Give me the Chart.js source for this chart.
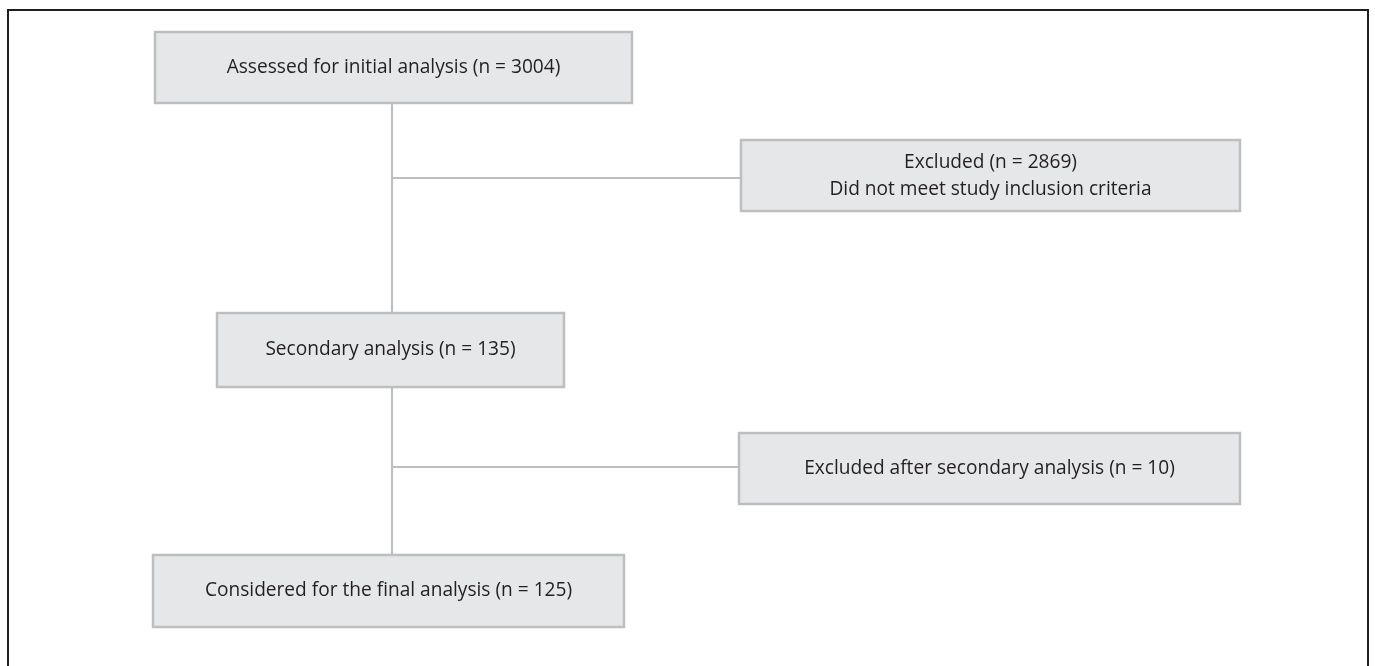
<!DOCTYPE html>
<html>
<head>
<meta charset="utf-8">
<script src="https://cdn.jsdelivr.net/npm/chart.js@4.4.1/dist/chart.umd.min.js"></script>
<style>
  html, body { margin: 0; padding: 0; background: #ffffff; }
  #wrap { width: 1375px; height: 666px; position: relative; }
</style>
</head>
<body>
<div id="wrap"><canvas id="c" width="1375" height="666"></canvas></div>
<script>
// ---- data ----
const stepLabels = [
  "Assessed for initial analysis",
  "Excluded",
  "Secondary analysis",
  "Excluded after secondary analysis",
  "Considered for the final analysis"
];
const stepCounts = [3004, 2869, 135, 10, 125];
const stepNotes = ["", "Did not meet study inclusion criteria", "", "", ""];

// ---- layout (scale units) ----
const boxX0 = [155, 741, 217, 739, 153];
const boxX1 = [632, 1240, 564, 1240, 624];
const boxY0 = [32, 140, 313, 433, 555];
const boxY1 = [103, 211, 387, 504, 627];
const trunkX = 392;
const branchY = [178, 467];

const FONT = '"Open Sans", "Liberation Sans", sans-serif';

const flowPlugin = {
  id: 'flow',
  afterDatasetsDraw(chart) {
    const ctx = chart.ctx;
    const xs = chart.scales.x, ys = chart.scales.y;
    const px = v => xs.getPixelForValue(v);
    const py = v => ys.getPixelForValue(v);
    ctx.save();
    // outer frame
    ctx.strokeStyle = '#231f20';
    ctx.lineWidth = 2;
    ctx.strokeRect(px(8), py(10), px(1368) - px(8), py(680) - py(10));
    // fit font so the first label spans the same width as in the reference
    ctx.font = '100px ' + FONT;
    const refText = stepLabels[0] + ' (n = ' + stepCounts[0] + ')';
    const w100 = ctx.measureText(refText).width;
    const fs = Math.min(20, Math.max(14, 100 * 334 / w100));
    for (let i = 0; i < stepLabels.length; i++) {
      const x0 = px(boxX0[i]), x1 = px(boxX1[i]);
      const y0 = py(boxY0[i]), y1 = py(boxY1[i]);
      ctx.fillStyle = '#e6e7e8';
      ctx.fillRect(x0, y0, x1 - x0, y1 - y0);
      ctx.strokeStyle = '#bcbec0';
      ctx.lineWidth = 2.5;
      ctx.strokeRect(x0, y0, x1 - x0, y1 - y0);
      const main = stepLabels[i] + ' (n = ' + stepCounts[i] + ')';
      ctx.fillStyle = '#231f20';
      ctx.font = fs.toFixed(2) + 'px ' + FONT;
      ctx.textAlign = 'center';
      ctx.textBaseline = 'middle';
      const cx = (x0 + x1) / 2, cy = (y0 + y1) / 2;
      if (stepNotes[i]) {
        ctx.fillText(main, cx, cy - 13);
        ctx.fillText(stepNotes[i], cx, cy + 14);
      } else {
        ctx.fillText(main, cx, cy);
      }
    }
    ctx.restore();
  }
};

// connector lines as datasets
const connectors = [
  [{x: trunkX, y: boxY1[0]}, {x: trunkX, y: boxY0[2]}],
  [{x: trunkX, y: branchY[0]}, {x: boxX0[1], y: branchY[0]}],
  [{x: trunkX, y: boxY1[2]}, {x: trunkX, y: boxY0[4]}],
  [{x: trunkX, y: branchY[1]}, {x: boxX0[3], y: branchY[1]}]
];

new Chart(document.getElementById('c'), {
  type: 'scatter',
  data: {
    datasets: connectors.map(d => ({
      type: 'line',
      data: d,
      borderColor: '#bcbec0',
      borderWidth: 2.2,
      pointRadius: 0,
      fill: false,
      tension: 0
    }))
  },
  options: {
    responsive: false,
    animation: false,
    devicePixelRatio: 1,
    layout: { padding: 0 },
    plugins: { legend: { display: false }, tooltip: { enabled: false } },
    scales: {
      x: { type: 'linear', min: 0, max: 1375, display: false },
      y: { type: 'linear', min: 0, max: 666, reverse: true, display: false }
    }
  },
  plugins: [flowPlugin]
});
</script>
</body>
</html>
